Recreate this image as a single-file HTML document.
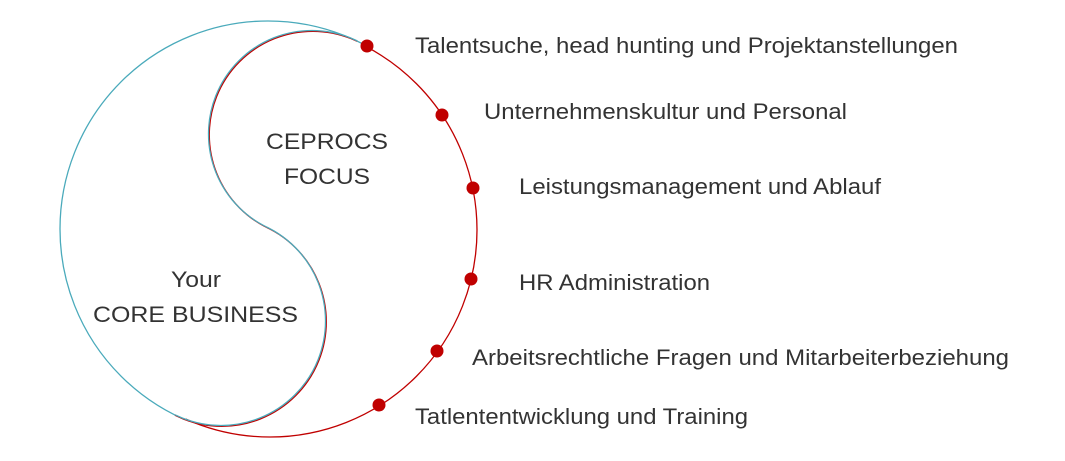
<!DOCTYPE html>
<html><head><meta charset="utf-8"><style>
html,body{margin:0;padding:0;background:#fff;}
svg{display:block;}
text{font-family:"Liberation Sans",Arial,sans-serif;font-size:22px;fill:#333;}
</style></head><body>
<svg width="1065" height="461" viewBox="0 0 1065 461" xmlns="http://www.w3.org/2000/svg">
<defs>
<clipPath id="oL"><polygon points="402,-30 149,495 0,495 0,-30"/></clipPath>
<clipPath id="oR"><polygon points="402,-30 149,495 1065,495 1065,-30"/></clipPath>
<clipPath id="iL"><polygon points="385,-16 139,489 0,489 0,-16"/></clipPath>
<clipPath id="iR"><polygon points="385,-16 139,489 1065,489 1065,-16"/></clipPath>
</defs>
<circle cx="270" cy="230" r="207" fill="none" stroke="#c00000" stroke-width="1.3" clip-path="url(#oR)"/>
<circle cx="268" cy="229" r="208" fill="none" stroke="#4aaabb" stroke-width="1.3" clip-path="url(#oL)"/>
<g fill="none" stroke-width="1.3">
<circle cx="312.8" cy="134.8" r="103.5" stroke="#c00000" clip-path="url(#iL)"/>
<circle cx="221.8" cy="321.8" r="104.5" stroke="#c00000" clip-path="url(#iR)"/>
<circle cx="312" cy="134" r="103.5" stroke="#4aaabb" clip-path="url(#iL)"/>
<circle cx="221" cy="321" r="104.5" stroke="#4aaabb" clip-path="url(#iR)"/>
</g>
<g fill="#c00000">
<circle cx="367" cy="46" r="6.5"/>
<circle cx="442" cy="115" r="6.5"/>
<circle cx="473" cy="188" r="6.5"/>
<circle cx="471" cy="279" r="6.5"/>
<circle cx="437" cy="351" r="6.5"/>
<circle cx="379" cy="405" r="6.5"/>
</g>
<text x="415" y="53" textLength="543" lengthAdjust="spacingAndGlyphs">Talentsuche, head hunting und Projektanstellungen</text>
<text x="484" y="119" textLength="363" lengthAdjust="spacingAndGlyphs">Unternehmenskultur und Personal</text>
<text x="519" y="194" textLength="362" lengthAdjust="spacingAndGlyphs">Leistungsmanagement und Ablauf</text>
<text x="519" y="290" textLength="191" lengthAdjust="spacingAndGlyphs">HR Administration</text>
<text x="472" y="365" textLength="537" lengthAdjust="spacingAndGlyphs">Arbeitsrechtliche Fragen und Mitarbeiterbeziehung</text>
<text x="415" y="424" textLength="333" lengthAdjust="spacingAndGlyphs">Tatlententwicklung und Training</text>
<text x="266" y="149" textLength="122" lengthAdjust="spacingAndGlyphs">CEPROCS</text>
<text x="284" y="184" textLength="86" lengthAdjust="spacingAndGlyphs">FOCUS</text>
<text x="171" y="287" textLength="50" lengthAdjust="spacingAndGlyphs">Your</text>
<text x="93" y="322" textLength="205" lengthAdjust="spacingAndGlyphs">CORE BUSINESS</text>
</svg>
</body></html>
